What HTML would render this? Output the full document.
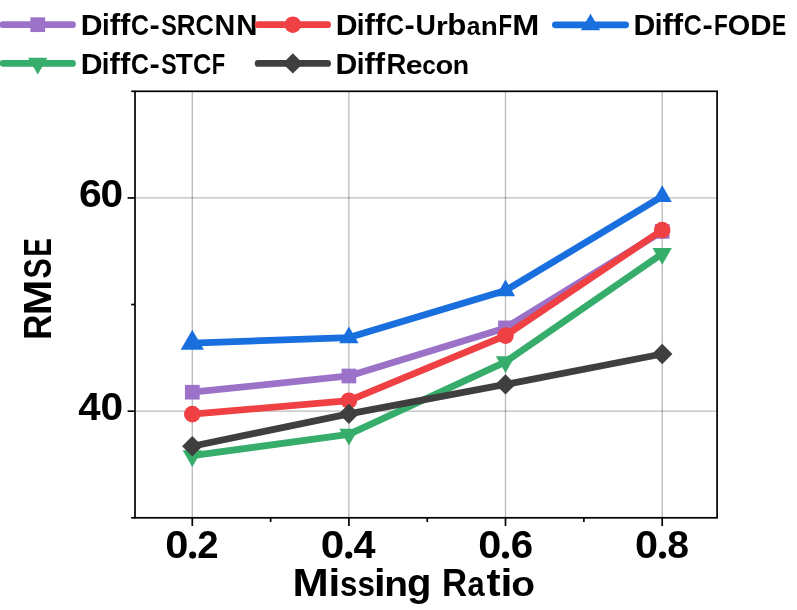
<!DOCTYPE html>
<html><head><meta charset="utf-8"><title>chart</title>
<style>html,body{margin:0;padding:0;background:#fff;overflow:hidden}svg{display:block}text{font-family:"Liberation Sans",sans-serif;font-weight:bold;fill:#000;font-kerning:none}.t{filter:grayscale(1)}</style></head><body>
<svg width="797" height="610" viewBox="0 0 797 610">
<rect width="797" height="610" fill="#fff"/>
<g stroke="#000" stroke-opacity="0.27" stroke-width="1.35"><line x1="192.3" y1="91.3" x2="192.3" y2="517.8"/><line x1="348.9" y1="91.3" x2="348.9" y2="517.8"/><line x1="505.5" y1="91.3" x2="505.5" y2="517.8"/><line x1="662.2" y1="91.3" x2="662.2" y2="517.8"/><line x1="135.0" y1="411.17" x2="717.1" y2="411.17"/><line x1="135.0" y1="197.93" x2="717.1" y2="197.93"/></g>
<polyline points="192.30,392.20 348.90,375.99 505.50,327.90 662.20,231.41" fill="none" stroke="#9b72c8" stroke-width="6.8" stroke-linejoin="round"/>
<rect x="184.95" y="384.85" width="14.7" height="14.7" fill="#9b72c8"/>
<rect x="341.55" y="368.64" width="14.7" height="14.7" fill="#9b72c8"/>
<rect x="498.15" y="320.55" width="14.7" height="14.7" fill="#9b72c8"/>
<rect x="654.85" y="224.06" width="14.7" height="14.7" fill="#9b72c8"/>
<polyline points="192.30,414.16 348.90,400.73 505.50,335.58 662.20,230.02" fill="none" stroke="#ef4043" stroke-width="6.8" stroke-linejoin="round"/>
<circle cx="192.30" cy="414.16" r="8.3" fill="#ef4043"/>
<circle cx="348.90" cy="400.73" r="8.3" fill="#ef4043"/>
<circle cx="505.50" cy="335.58" r="8.3" fill="#ef4043"/>
<circle cx="662.20" cy="230.02" r="8.3" fill="#ef4043"/>
<polyline points="192.30,343.15 348.90,337.60 505.50,290.58 662.20,196.43" fill="none" stroke="#1a6fdf" stroke-width="6.8" stroke-linejoin="round"/>
<polygon points="192.30,329.70 180.65,349.87 203.95,349.87" fill="#1a6fdf"/>
<polygon points="348.90,326.46 339.25,343.18 358.55,343.18" fill="#1a6fdf"/>
<polygon points="505.50,279.44 495.85,296.15 515.15,296.15" fill="#1a6fdf"/>
<polygon points="662.20,185.29 652.55,202.00 671.85,202.00" fill="#1a6fdf"/>
<polyline points="192.30,455.74 348.90,434.31 505.50,361.81 662.20,253.69" fill="none" stroke="#37ad6b" stroke-width="6.8" stroke-linejoin="round"/>
<polygon points="192.30,466.89 182.65,450.17 201.95,450.17" fill="#37ad6b"/>
<polygon points="348.90,445.46 339.25,428.74 358.55,428.74" fill="#37ad6b"/>
<polygon points="505.50,372.95 495.85,356.24 515.15,356.24" fill="#37ad6b"/>
<polygon points="662.20,264.83 652.55,248.12 671.85,248.12" fill="#37ad6b"/>
<polyline points="192.30,446.25 348.90,413.84 505.50,384.41 662.20,354.02" fill="none" stroke="#3f3f3f" stroke-width="6.8" stroke-linejoin="round"/>
<polygon points="192.30,436.05 202.50,446.25 192.30,456.45 182.10,446.25" fill="#3f3f3f"/>
<polygon points="348.90,403.64 359.10,413.84 348.90,424.04 338.70,413.84" fill="#3f3f3f"/>
<polygon points="505.50,374.21 515.70,384.41 505.50,394.61 495.30,384.41" fill="#3f3f3f"/>
<polygon points="662.20,343.82 672.40,354.02 662.20,364.22 652.00,354.02" fill="#3f3f3f"/>
<rect x="135.0" y="91.3" width="582.10" height="426.50" fill="none" stroke="#000" stroke-width="1.7"/>
<g stroke="#000" stroke-width="1.7"><line x1="192.3" y1="517.8" x2="192.3" y2="526.0"/><line x1="348.9" y1="517.8" x2="348.9" y2="526.0"/><line x1="505.5" y1="517.8" x2="505.5" y2="526.0"/><line x1="662.2" y1="517.8" x2="662.2" y2="526.0"/><line x1="270.62" y1="517.8" x2="270.62" y2="522.0"/><line x1="427.25" y1="517.8" x2="427.25" y2="522.0"/><line x1="583.88" y1="517.8" x2="583.88" y2="522.0"/><line x1="135.0" y1="411.17" x2="127.6" y2="411.17"/><line x1="135.0" y1="197.93" x2="127.6" y2="197.93"/><line x1="135.0" y1="517.80" x2="131.2" y2="517.80"/><line x1="135.0" y1="304.55" x2="131.2" y2="304.55"/><line x1="135.0" y1="91.30" x2="131.2" y2="91.30"/></g>
<g class="t" font-size="39.4"><text transform="translate(166.80,558.00) scale(1.0567,1.0)" x="-1.56" y="0">0</text><text transform="translate(198.70,558.00) scale(0.9753,1.0)" x="-1.37" y="0">2</text><text transform="translate(322.50,558.00) scale(1.0727,1.0)" x="-1.56" y="0">0</text><text transform="translate(354.00,558.00) scale(1.0045,1.0)" x="-0.60" y="0">4</text><text transform="translate(479.90,558.00) scale(1.0513,1.0)" x="-1.56" y="0">0</text><text transform="translate(512.20,558.00) scale(1.0238,1.0)" x="-1.44" y="0">6</text><text transform="translate(636.60,558.00) scale(1.0513,1.0)" x="-1.56" y="0">0</text><text transform="translate(668.40,558.00) scale(0.9923,1.0)" x="-1.25" y="0">8</text></g>
<circle cx="192.65" cy="555.1" r="3.55" fill="#000"/>
<circle cx="348.75" cy="555.1" r="3.55" fill="#000"/>
<circle cx="505.55" cy="555.1" r="3.55" fill="#000"/>
<circle cx="662.55" cy="555.1" r="3.55" fill="#000"/>
<g class="t" font-size="39.4"><text transform="translate(80.50,206.73) scale(1.0396,1.0)" x="-1.44" y="0">6</text><text transform="translate(102.10,206.73) scale(1.0300,1.0)" x="-1.56" y="0">0</text></g>
<g class="t" font-size="39.4"><text transform="translate(78.80,419.97) scale(1.0187,1.0)" x="-0.60" y="0">4</text><text transform="translate(102.10,419.97) scale(1.0300,1.0)" x="-1.56" y="0">0</text></g>
<g class="t" font-size="38.2"><text transform="translate(295.50,596.10) scale(1.1381,1.0)" x="-2.56" y="0">M</text><text transform="translate(331.40,596.10) scale(1.1066,1.0)" x="-2.67" y="0">i</text><text transform="translate(341.00,596.10) scale(0.8181,0.91)" x="-1.34" y="0">s</text><text transform="translate(358.50,596.10) scale(0.8236,0.91)" x="-1.34" y="0">s</text><text transform="translate(376.80,596.10) scale(1.0875,1.0)" x="-2.67" y="0">i</text><text transform="translate(386.90,596.10) scale(1.0191,0.91)" x="-2.52" y="0">n</text><text transform="translate(408.70,596.10) scale(1.0462,1.0)" x="-1.57" y="0">g</text><text transform="translate(444.40,596.10) scale(0.9114,1.0)" x="-2.56" y="0">R</text><text transform="translate(468.50,596.10) scale(0.8052,0.91)" x="-1.12" y="0">a</text><text transform="translate(487.10,596.10) scale(1.1113,1.0)" x="-0.47" y="0">t</text><text transform="translate(503.60,596.10) scale(1.1257,1.0)" x="-2.67" y="0">i</text><text transform="translate(512.70,596.10) scale(1.0221,0.91)" x="-1.49" y="0">o</text></g>
<g transform="translate(51.0,337.4) rotate(-90)"><g class="t" font-size="39.1"><text transform="translate(0.00,0.00) scale(0.8945,1.0)" x="-2.62" y="0">R</text><text transform="translate(24.80,0.00) scale(1.1046,1.0)" x="-2.62" y="0">M</text><text transform="translate(59.70,0.00) scale(0.7769,1.0)" x="-1.13" y="0">S</text><text transform="translate(82.80,0.00) scale(0.7066,1.0)" x="-2.62" y="0">E</text></g></g>
<line x1="3.00" y1="24.7" x2="72.50" y2="24.7" stroke="#9b72c8" stroke-width="6.8" stroke-linecap="round"/>
<rect x="30.40" y="17.35" width="14.7" height="14.7" fill="#9b72c8"/>
<g class="t" font-size="28.9"><text transform="translate(82.80,34.90) scale(1.0438,1.0)" x="-1.93" y="0">D</text><text transform="translate(103.90,34.90) scale(0.9583,1.0)" x="-2.02" y="0">i</text><text transform="translate(110.20,34.90) scale(1.0739,1.0)" x="-0.49" y="0">ff</text><text transform="translate(132.00,34.90) scale(0.8627,1.0)" x="-1.19" y="0">C</text><text transform="translate(150.80,34.90) scale(1.0630,1.0)" x="-1.13" y="0">-</text><text transform="translate(161.90,34.90) scale(0.8086,1.0)" x="-0.83" y="0">S</text><text transform="translate(178.60,34.90) scale(0.8994,1.0)" x="-1.93" y="0">R</text><text transform="translate(196.60,34.90) scale(0.8785,1.0)" x="-1.19" y="0">C</text><text transform="translate(216.30,34.90) scale(0.9947,1.0)" x="-1.93" y="0">N</text><text transform="translate(238.20,34.90) scale(1.0182,1.0)" x="-1.93" y="0">N</text></g>
<line x1="258.10" y1="24.7" x2="327.60" y2="24.7" stroke="#ef4043" stroke-width="6.8" stroke-linecap="round"/>
<circle cx="292.85" cy="24.70" r="8.3" fill="#ef4043"/>
<g class="t" font-size="28.9"><text transform="translate(337.70,34.90) scale(1.0438,1.0)" x="-1.93" y="0">D</text><text transform="translate(358.80,34.90) scale(0.9583,1.0)" x="-2.02" y="0">i</text><text transform="translate(365.10,34.90) scale(1.0739,1.0)" x="-0.49" y="0">ff</text><text transform="translate(386.90,34.90) scale(0.8627,1.0)" x="-1.19" y="0">C</text><text transform="translate(405.70,34.90) scale(1.0630,1.0)" x="-1.13" y="0">-</text><text transform="translate(417.30,34.90) scale(0.9786,1.0)" x="-1.74" y="0">U</text><text transform="translate(437.90,34.90) scale(1.0444,0.91)" x="-1.91" y="0">r</text><text transform="translate(449.40,34.90) scale(1.0849,1.0)" x="-1.91" y="0">b</text><text transform="translate(467.50,34.90) scale(0.8501,0.91)" x="-0.85" y="0">a</text><text transform="translate(482.60,34.90) scale(0.9673,0.91)" x="-1.91" y="0">n</text><text transform="translate(499.90,34.90) scale(0.7707,1.0)" x="-1.93" y="0">F</text><text transform="translate(514.40,34.90) scale(1.1233,1.0)" x="-1.93" y="0">M</text></g>
<line x1="555.40" y1="24.8" x2="625.60" y2="24.8" stroke="#1a6fdf" stroke-width="6.8" stroke-linecap="round"/>
<polygon points="590.50,13.66 580.85,30.37 600.15,30.37" fill="#1a6fdf"/>
<g class="t" font-size="28.9"><text transform="translate(635.60,34.90) scale(1.0438,1.0)" x="-1.93" y="0">D</text><text transform="translate(656.70,34.90) scale(0.9583,1.0)" x="-2.02" y="0">i</text><text transform="translate(663.00,34.90) scale(1.0739,1.0)" x="-0.49" y="0">ff</text><text transform="translate(684.80,34.90) scale(0.8627,1.0)" x="-1.19" y="0">C</text><text transform="translate(703.60,34.90) scale(1.0630,1.0)" x="-1.13" y="0">-</text><text transform="translate(715.40,34.90) scale(0.7775,1.0)" x="-1.93" y="0">F</text><text transform="translate(728.90,34.90) scale(1.0010,1.0)" x="-1.19" y="0">O</text><text transform="translate(752.10,34.90) scale(1.0212,1.0)" x="-1.93" y="0">D</text><text transform="translate(773.40,34.90) scale(0.7339,1.0)" x="-1.93" y="0">E</text></g>
<line x1="3.00" y1="63.4" x2="72.50" y2="63.4" stroke="#37ad6b" stroke-width="6.8" stroke-linecap="round"/>
<polygon points="37.75,74.54 28.10,57.83 47.40,57.83" fill="#37ad6b"/>
<g class="t" font-size="28.9"><text transform="translate(82.70,73.90) scale(1.0438,1.0)" x="-1.93" y="0">D</text><text transform="translate(103.80,73.90) scale(0.9583,1.0)" x="-2.02" y="0">i</text><text transform="translate(110.10,73.90) scale(1.0739,1.0)" x="-0.49" y="0">ff</text><text transform="translate(131.90,73.90) scale(0.8627,1.0)" x="-1.19" y="0">C</text><text transform="translate(150.70,73.90) scale(1.0630,1.0)" x="-1.13" y="0">-</text><text transform="translate(161.80,73.90) scale(0.7970,1.0)" x="-0.83" y="0">S</text><text transform="translate(176.10,73.90) scale(0.9695,1.0)" x="-0.32" y="0">T</text><text transform="translate(194.10,73.90) scale(0.8785,1.0)" x="-1.19" y="0">C</text><text transform="translate(213.20,73.90) scale(0.7571,1.0)" x="-1.93" y="0">F</text></g>
<line x1="258.10" y1="63.4" x2="327.60" y2="63.4" stroke="#3f3f3f" stroke-width="6.8" stroke-linecap="round"/>
<polygon points="292.85,53.20 303.05,63.40 292.85,73.60 282.65,63.40" fill="#3f3f3f"/>
<g class="t" font-size="28.9"><text transform="translate(337.50,73.90) scale(1.0438,1.0)" x="-1.93" y="0">D</text><text transform="translate(358.60,73.90) scale(0.9583,1.0)" x="-2.02" y="0">i</text><text transform="translate(364.90,73.90) scale(1.0739,1.0)" x="-0.49" y="0">ff</text><text transform="translate(388.40,73.90) scale(0.9485,1.0)" x="-1.93" y="0">R</text><text transform="translate(407.00,73.90) scale(1.0461,0.91)" x="-1.13" y="0">e</text><text transform="translate(423.30,73.90) scale(0.8441,0.91)" x="-1.13" y="0">c</text><text transform="translate(436.70,73.90) scale(1.0068,0.91)" x="-1.13" y="0">o</text><text transform="translate(454.40,73.90) scale(0.9243,0.91)" x="-1.91" y="0">n</text></g>
</svg></body></html>
